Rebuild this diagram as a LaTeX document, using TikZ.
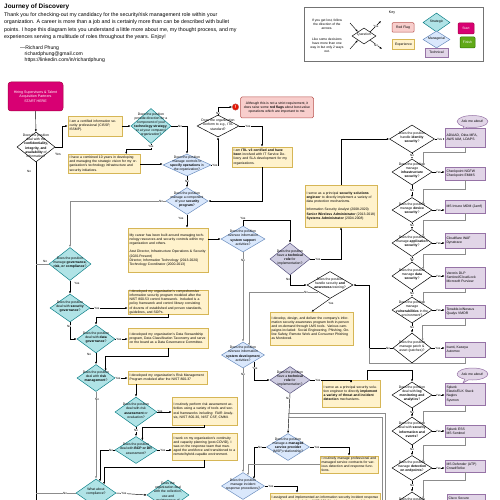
\documentclass[tikz,border=0pt]{standalone}
\usepackage{fontspec}
\setmainfont{Liberation Sans}
\usetikzlibrary{shapes.geometric,shapes.callouts,arrows.meta,calc}
\definecolor{tealf}{HTML}{B0E3E6}\definecolor{teald}{HTML}{0E8088}
\definecolor{bluef}{HTML}{DAE8FC}\definecolor{blued}{HTML}{6C8EBF}
\definecolor{purf}{HTML}{E1D5E7}\definecolor{purd}{HTML}{9673A6}
\definecolor{pur2f}{HTML}{D0CEE2}\definecolor{pur2d}{HTML}{56517E}
\definecolor{yelf}{HTML}{FFF2CC}\definecolor{yeld}{HTML}{D6B656}
\definecolor{redf}{HTML}{F8CECC}\definecolor{redd}{HTML}{B85450}
\definecolor{magf}{HTML}{D80073}\definecolor{magd}{HTML}{A50040}
\definecolor{grnf}{HTML}{60A917}\definecolor{grnd}{HTML}{2D7600}
\definecolor{flagc}{HTML}{E51400}
\newcommand{\dtxt}[2]{\smash{\makebox[0pt]{\parbox{#1pt}{\centering #2}}}}
\begin{document}
\begin{tikzpicture}[x=1pt,y=-1pt,>={Latex[length=2.4pt,width=2pt]},
 base/.style={font=\fontsize{3.4}{4.1}\selectfont, inner sep=0pt, line width=0.5pt},
 qd/.style={base, diamond, draw=black, fill=white},
 strat/.style={qd, fill=tealf, draw=teald},
 mgr/.style={qd, fill=bluef, draw=blued},
 techd/.style={qd, fill=pur2f, draw=pur2d},
 exp/.style={base, rectangle, draw=yeld, fill=yelf, align=left, inner xsep=1.5pt},
 tech/.style={base, rectangle, draw=purd, fill=purf, align=left, inner xsep=1.5pt},
 ar/.style={->, line width=0.45pt},
 gar/.style={->, line width=0.45pt, draw=black!45},
 ln/.style={line width=0.45pt},
 gln/.style={line width=0.45pt, draw=black!45},
 lbl/.style={font=\fontsize{3.1}{3.4}\selectfont, fill=white, inner sep=0.3pt},
 bub/.style={base, ellipse callout, draw=purd, fill=purf, minimum width=25pt, minimum height=12pt, align=center},
]
\fill[white] (0,0) rectangle (500,500);
\useasboundingbox (0,0) rectangle (500,500);
\clip (0,0) rectangle (500,500);

% ---------- header
\node[anchor=west, inner sep=0, font=\fontsize{6.4}{7}\selectfont\bfseries] (title) at (4,7) {Journey of Discovery};
\node[anchor=north west, inner sep=0, align=left, font=\fontsize{5.3}{7.3}\selectfont] (intro) at (4,12.6) {Thank you for checking-out my candidacy for the security/risk management role within your\\ organization. A career is more than a job and is certainly more than can be described with bullet\\ points. I hope this diagram lets you understand a little more about me, my thought process, and my\\ experiences serving a multitude of roles throughout the years. Enjoy!};
\node[anchor=north west, inner sep=0, align=left, font=\fontsize{5.1}{6.2}\selectfont] (sig) at (20,45.5) {---Richard Phung\\ \hspace*{4.5pt}richardphung@gmail.com\\ \hspace*{4.5pt}https://linkedin.com/in/richardphung};

% ---------- key
\node[draw=black!55, line width=0.6pt, minimum width=179pt, minimum height=54pt, inner sep=0] (keybox) at (393.5,34) {};
\node[base, align=center, font=\fontsize{3.3}{4.1}\selectfont] (k1) at (327,24) {If you get lost, follow\\ the direction of the\\ arrows.};
\node[base, align=center, font=\fontsize{3.3}{4.1}\selectfont] (k2) at (327,45) {Like some decisions\\ have more than one\\ way in but only 2 ways\\ out.};
\node[qd, minimum width=24pt, minimum height=16pt] (kq) at (364,36) {\dtxt{20}{Question}};
\coordinate (ka1) at (350,23); \coordinate (ka2) at (350,49);
\coordinate (kb1) at (381,21); \coordinate (kb2) at (382,49);
\draw[ar] (ka1) -- (kq.north west); \draw[ar] (ka2) -- (kq.south west);
\draw[ar] (kq.north east) -- (kb1); \draw[ar] (kq.south east) -- (kb2);
\node[lbl] (kyes) at (376,26) {Yes}; \node[lbl] (kno) at (376,45) {No};
\node[base, font=\fontsize{3.6}{4}\selectfont] (keyt) at (392,13) {Key};
\node[base, draw=redd, fill=redf, minimum width=22pt, minimum height=9.5pt, rounded corners=1pt] (kred) at (403,27.5) {Red Flag};
\node[base, draw=yeld, fill=yelf, minimum width=22pt, minimum height=10pt] (kexp) at (403.5,44.5) {Experience};
\node[strat, minimum width=27pt, minimum height=19pt] (kstr) at (436.5,22.5) {\dtxt{22}{Strategic}};
\node[mgr, minimum width=27pt, minimum height=17pt] (kmgr) at (436.5,39.5) {\dtxt{22}{Managerial}};
\node[base, draw=purd, fill=purf, minimum width=23pt, minimum height=9pt] (ktec) at (436.5,52.5) {Technical};
\node[base, draw=magd, fill=magf, text=white, minimum width=16pt, minimum height=11pt, rounded corners=1pt] (kstart) at (466,28.5) {Start};
\node[base, draw=grnd, fill=grnf, text=white, minimum width=15pt, minimum height=11pt, rounded corners=1pt] (kfin) at (467.5,42.5) {Finish};

% ---------- main flow nodes
\node[base, draw=magd, fill=magf, text=white, rounded corners=3pt, minimum width=55pt, minimum height=29pt, align=center, font=\fontsize{3.6}{4.4}\selectfont] (start) at (35.5,96.5) {Hiring Supervisors \& Talent\\ Acquisition Partners\\ START HERE};
\node[qd, minimum width=38pt, minimum height=30pt] (d1) at (36,147) {\dtxt{30}{Does the position deal with the \textbf{confidentiality, integrity, and availability} of information?}};
\node[exp, text width=51pt, minimum height=20pt] (e1) at (95,126) {I am a certified information security professional (CISSP, ISSMP).};
\node[strat, minimum width=40pt, minimum height=35pt] (d2) at (151,126) {\dtxt{34}{Does the position provide direction for a component of your \textbf{technology strategy}, or at your company/ organization?}};
\node[exp, text width=69pt, minimum height=19pt] (e2) at (104,164) {I have a combined 10 years in developing and managing the strategic vision for my organization's technology infrastructure and security initiatives.};
\node[mgr, minimum width=48pt, minimum height=22pt] (d3) at (187,165) {\dtxt{36}{Does the position manage controls to \textbf{specify operations} in the organization?}};
\node[qd, minimum width=42pt, minimum height=22pt] (d4) at (218,126) {\dtxt{34}{Does the organization conform to e.g., ITIL standard?}};
\node[circle, fill=flagc, draw=redd, line width=0.4pt, minimum size=6.4pt, inner sep=0, text=white, font=\fontsize{4.6}{5}\selectfont\bfseries] (flag) at (235.5,107) {!};
\node[base, draw=redd, fill=redf, rounded corners=1.5pt, minimum width=73pt, minimum height=21pt, align=center] (rf) at (277,107.5) {Although this is not a strict requirement, it\\ does raise some \textbf{red flags} about best-value\\ operations which are important to me.};
\node[exp, text width=57pt, minimum height=20pt] (e3) at (262,157) {I am \textbf{ITIL v3 certified and have been} involved with IT Service Delivery and SLA development for my organizations.};
\node[mgr, minimum width=42pt, minimum height=27pt] (d5) at (187,201) {\dtxt{34}{Does the position manage a component of your \textbf{security program}?}};
\node[exp, text width=77pt, minimum height=44pt] (e4) at (168,250) {My career has been built around managing technology resources and security controls within my organization and others.\\[4.1pt] Asst Director, Infrastructure Operations \& Security (2020-Present)\\ Director, Information Technology (2013-2020)\\ Technology Coordinator (2000-2013)};
\node[mgr, minimum width=44pt, minimum height=26pt] (d6) at (243,239) {\dtxt{34}{Does the position oversee information \textbf{system support} activities?}};
\node[techd, minimum width=40pt, minimum height=32pt] (d7) at (290,259) {\dtxt{32}{Does the position have a \textbf{technical role} for implementation?}};
\node[exp, text width=69pt, minimum height=42pt] (e5) at (341,206) {I serve as a principal \textbf{security solutions engineer} to directly implement a variety of data protection mechanisms.\\[4.1pt] Information Security Analyst (2008-2020)\\ \textbf{Senior Wireless Administrator} (2013-2018)\\ \textbf{Systems Administrator} (2004-2008)};
\node[qd, minimum width=46pt, minimum height=27pt] (daw) at (330,285) {\dtxt{34}{Does the position handle security \textbf{and awareness} training?}};
\node[exp, text width=80pt, minimum height=33pt] (e11) at (311.5,328.5) {I develop, design, and deliver the company's information security awareness program both in-person and on-demand through LMS tools. Various campaigns included: Social Engineering, Phishing, Online Safety, Remote Work and Consumer Phishing as Monitored.};

\node[strat, minimum width=42pt, minimum height=33pt] (grc) at (70,264) {\dtxt{34}{Does the position manage \textbf{governance, risk, or compliance}?}};
\node[strat, minimum width=40pt, minimum height=28pt] (sg) at (70,308) {\dtxt{32}{Does the position deal with \textbf{security governance}?}};
\node[exp, text width=77pt, minimum height=24pt] (e6) at (168,302) {I developed my organization's comprehensive information security program modeled after the NIST 800-53 control framework. Included is a policy framework and control library consisting of dozens of established and proven standards, guidelines, and SOPs.};
\node[strat, minimum width=38pt, minimum height=28pt] (dg) at (96,339) {\dtxt{30}{Does the position deal with \textbf{data governance}?}};
\node[exp, text width=77pt, minimum height=20pt] (e7) at (168,338) {I developed my organization's Data Stewardship program, Data Classification Taxonomy and serve on the board as a Data Governance Committee.};
\node[strat, minimum width=38pt, minimum height=27pt] (rm) at (96,378) {\dtxt{30}{Does the position deal with \textbf{risk management}?}};
\node[exp, text width=76pt, minimum height=13pt] (e8) at (167.5,377.5) {I developed my organization's Risk Management Program modeled after the NIST 800-37};
\node[strat, minimum width=42pt, minimum height=30pt] (ra) at (136,412) {\dtxt{32}{Does the position deal with risk \textbf{assessment} or evaluation?}};
\node[exp, text width=62pt, minimum height=28pt] (e9) at (204.5,411) {I routinely perform risk assessment activities using a variety of tools and several frameworks including: FAIR Analysis, NIST 800-30, NIST CSF, CMMI.};
\node[strat, minimum width=42pt, minimum height=27pt] (bcp) at (136,450) {\dtxt{32}{Does the position deal with \textbf{BCP or DR} assessment?}};
\node[exp, text width=62pt, minimum height=27pt] (e10) at (204.5,446.5) {I work on my organization's continuity and capacity planning (post-COVID), I was on the response team that managed the workforce and transitioned to a remote/hybrid-capable environment.};
\node[strat, minimum width=40pt, minimum height=28pt] (comp) at (96,493) {\dtxt{30}{What about compliance?}};
\node[strat, minimum width=42pt, minimum height=30pt] (vend) at (168,495) {\dtxt{32}{Does the organization deal with the collection, use and maintenance of data?}};

\node[mgr, minimum width=43pt, minimum height=26pt] (d8) at (243,355) {\dtxt{34}{Does the position oversee information \textbf{system development} activities?}};
\node[techd, minimum width=40pt, minimum height=27pt] (d9) at (290,380) {\dtxt{32}{Does the position have a \textbf{technical role} for implementation?}};
\node[exp, text width=55pt, minimum height=27pt] (ep) at (351,393.5) {I serve as a principal security solution engineer to directly \textbf{implement a variety of threat and incident detection} mechanisms.};
\node[mgr, minimum width=43pt, minimum height=27pt] (d10) at (288,447) {\dtxt{34}{Does the position manage a \textbf{managed service provider} (MSP) relationship?}};
\node[exp, text width=55pt, minimum height=17pt] (e12) at (349,464.5) {I routinely manage professional and managed service contracts for various detection and response functions.};
\node[mgr, minimum width=43pt, minimum height=27pt] (inc) at (243,486) {\dtxt{34}{Does the position manage incident response procedures?}};
\node[exp, text width=107pt, minimum height=17pt] (e13) at (325,501.5) {I assigned and implemented an information security incident response procedures modeled after NIST 800-61. I have also helped the organization through several incidents.};

% ---------- technical column
\node[qd, minimum width=45pt, minimum height=28pt] (did) at (412,139) {\dtxt{34}{Does the position handle \textbf{identity security}?}};
\node[tech, text width=37pt, minimum height=19pt] (t1) at (465,137.5) {AD/AAD, Okta MFA, AWS IAM, LDAPS};
\node[bub, callout absolute pointer={(463,129)}] (b1) at (472.5,121.5) {Ask me about!};
\node[qd, minimum width=40pt, minimum height=26pt] (dinf) at (412,172) {\dtxt{32}{Does the position manage \textbf{infrastructure security}?}};
\node[tech, text width=37pt, minimum height=13pt] (t2) at (465,173.5) {Checkpoint NGFW\\ Checkpoint EMMS};
\node[qd, minimum width=40pt, minimum height=25pt] (ddev) at (412,210) {\dtxt{32}{Does the position manage \textbf{device security}?}};
\node[tech, text width=37pt, minimum height=13pt] (t3) at (465,206.5) {MS Intune MDM (Jamf)};
\node[qd, minimum width=40pt, minimum height=27pt] (dapp) at (412,243) {\dtxt{34}{Does the position manage \textbf{application security}?}};
\node[tech, text width=37pt, minimum height=15pt] (t4) at (465,240.5) {Cloudflare WAF\\ Dynatrace};
\node[qd, minimum width=40pt, minimum height=28pt] (ddata) at (412,276) {\dtxt{32}{Does the position manage \textbf{data security}?}};
\node[tech, text width=37pt, minimum height=21pt] (t5) at (465,277.5) {Varonis DLP\\ Sentinel/CloudLock\\ Microsoft Purview};
\node[qd, minimum width=40pt, minimum height=26pt] (dvuln) at (412,310) {\dtxt{34}{Does the position manage \textbf{vulnerabilities} in the environment?}};
\node[tech, text width=37pt, minimum height=13pt] (t6) at (465,311.5) {Tenable.io/Nessus\\ Qualys VMDR};
\node[qd, minimum width=38pt, minimum height=30pt] (dpatch) at (412,348) {\dtxt{30}{Does the position manage patch \& asset (patches)?}};
\node[tech, text width=37pt, minimum height=15pt] (t7) at (465,349.5) {Ivanti, Kaseya\\ Automox};
\node[bub, callout absolute pointer={(463,383)}] (b2) at (472.5,374) {Ask me about!};
\node[qd, minimum width=40pt, minimum height=26pt] (dlog) at (412,395) {\dtxt{32}{Does the position deal with \textbf{log monitoring and analytics}?}};
\node[tech, text width=37pt, minimum height=22pt] (t8) at (465,394) {Splunk\\ Elastic/ELK Stack\\ Nagios\\ Sysmon};
\node[qd, minimum width=40pt, minimum height=28pt] (dsiem) at (412,431) {\dtxt{32}{Does the position deal with \textbf{security information and events}?}};
\node[tech, text width=37pt, minimum height=12pt] (t9) at (465,431) {Splunk ESS\\ MS Sentinel};
\node[qd, minimum width=40pt, minimum height=25pt] (dedr) at (412,468) {\dtxt{32}{Does the position manage \textbf{detection on endpoints}?}};
\node[tech, text width=37pt, minimum height=12pt] (t10) at (465,466) {MS Defender (ATP)\\ CrowdStrike};
\node[qd, minimum width=40pt, minimum height=26pt] (dlast) at (412,505) {\dtxt{32}{Does the position manage \textbf{network security}?}};
\node[tech, text width=35pt, minimum height=12pt] (t11) at (466,500) {Cisco Secure\\ Palo Alto};

% ---------- connectors: top
\draw[ar] (start) -- (d1);
\draw[ar] (d1.east) -- (62,147) |- (e1.west);
\node[base] (l1) at (58,154) {Yes};
\draw[ln] (d1.south) -- (36,510);
\node[lbl] (l2) at (29,171) {No};
\draw[ar] (e1.east) -- (d2.west);
\draw[ar] (d2.east) -| (d3.north);
\node[lbl] (l3) at (180,126) {No};
\draw[ar] (d2.south) -- ++(0,5) -| ([xshift=-14pt]e2.north east);
\node[lbl] (l4) at (151,146.5) {Yes};
\draw[ar] (e2.east) -- (e2.east -| d3.west);
\draw[ar] (d3.east) -| (d4.south);
\node[lbl] (l5) at (215,165) {Yes};
\draw[ar] (d3.south) -- (d5.north);
\node[lbl] (l6) at (187,181) {No};
\draw[ar] (d4.north) |- (flag.west);
\node[lbl] (l7) at (218,113) {No};
\draw[ar] (d4.east) -| (e3.north);
\node[lbl] (l8) at (248,126) {Yes};
\draw[ar] (e3.south) |- (d5.east);
\draw[gar] (d5.west) -| (grc.north);
\node[lbl] (l9) at (161,201) {No};
\draw[ar] (d5.south) -- (d5.south |- e4.north);
\node[lbl] (l10) at (181,218) {Yes};
\draw[ar] (e4.east |- d6.west) -- (d6.west);
\draw[ar] (d6.north) -- ++(0,-6) -| (d7.north);
\node[lbl] (l11) at (243,218) {Yes};
\draw[gar] (d6.south) -- (d8.north);
\node[lbl] (l12) at (243,260) {No};
\draw[ar] (d7.east) -| (e5.south);
\node[lbl] (l13) at (318,259) {Yes};
\draw[ar] (e5.north) |- (did.west);
\draw[ar] (d7.south) |- (daw.west);
\node[lbl] (l14) at (288,279) {No};
\draw[ar] (daw.south) -- (e11.north);
\node[lbl] (l15) at (331,303) {Yes};
\draw[gar] (daw.south west) -| ($(d8.north)!0.28!(d8.east)$);
\node[lbl] (l16) at (306,292) {No};
\draw[ar] (d8.south east) |- (d9.west);
\node[lbl] (l17) at (255,368) {Yes};
\draw[gar] (d8.south) -- (inc.north);
\node[lbl] (l18) at (243,374) {No};
\draw[ar] (d9.east) -| (ep.north);
\node[lbl] (l19) at (318,380) {Yes};
\draw[ar] (d9.south) -- (d10.north);
\node[lbl] (l20) at (288,398) {No};
\draw[gln] (385,510) -- (385,413) -- (288,413);
\draw[gln] (382,510) -- (382,417) -- (288,417);
\draw[ar] (d10.east) -| (e12.north);
\node[lbl] (l21) at (317,447) {Yes};
\draw[ar] (d10.west) -| (inc.north east);
\node[lbl] (l22) at (260,447) {No};
\draw[gar] (e12.west) -| ($(inc.north)!0.23!(inc.east)$);
\draw[ar] (inc.east) -| ([xshift=-28pt]e13.north);
\node[lbl] (l23) at (271,486) {Yes};
\draw[ar] ([xshift=16pt]ep.north) -- ++(0,-10) -| (dlog.north);
\draw[ar] (dpatch.west) -| ([xshift=16pt]daw.east) -- (daw.east);
\node[lbl] (l24) at (388,348) {No};
\coordinate (j1) at (369,348);
\draw[gln] (t7.south) -- ++(0,6) -| (j1);

% ---------- connectors: left chain
\draw[ar] (grc.south) -- (sg.north);
\node[lbl] (l25) at (77,283) {Yes};
\draw[gln] (grc.west) -- (grc.west -| d1.south);
\node[lbl] (l26) at (45,261) {No};
\draw[ar] (sg.east) -- (sg.east -| e6.west);
\node[lbl] (l27) at (97,308) {Yes};
\draw[ar] (sg.south) |- (dg.west);
\node[lbl] (l28) at (69,326) {No};
\draw[ar] (e6.south) -- ++(0,2.5) -| (dg.north);
\draw[ar] (dg.east) -- (dg.east -| e7.west);
\node[lbl] (l29) at (119,339) {Yes};
\draw[ar] (dg.south) -- (rm.north);
\node[lbl] (l30) at (89,354) {No};
\draw[ar] (e7.south) -- ++(0,8) -| (rm.north east);
\draw[ar] (rm.east) -- (rm.east -| e8.west);
\node[lbl] (l31) at (118,378) {Yes};
\draw[gar] (rm.south) -- (comp.north);
\node[lbl] (l32) at (97,399) {No};
\draw[ar] (e8.south -| ra.north) -- (ra.north);
\draw[ar] (ra.east) -- (ra.east -| e9.west);
\node[lbl] (l33) at (160,411) {Yes};
\draw[ar] (ra.south) -- (bcp.north);
\node[lbl] (l34) at (136,430.5) {No};
\draw[ar] (e9.south) -- ++(0,2) -| ($(bcp.north)!0.3!(bcp.east)$);
\draw[ar] (bcp.east) -- (bcp.east -| e10.west);
\node[lbl] (l35) at (163,450) {Yes};
\draw[ar] (bcp.west) -| ($(comp.north)!0.2!(comp.east)$);
\node[lbl] (l36) at (111,450) {No};
\draw[ar] (e10.south) -- ++(0,7) -| ($(comp.north)!0.4!(comp.east)$);
\draw[gln] (comp.west) -- (comp.west -| d1.south);
\node[lbl] (l37) at (65,493) {No};
\draw[ar] (comp.east) -- (vend.west);
\node[lbl] (l38) at (124,493) {Yes};

% ---------- connectors: technical column
\foreach \d/\t in {did/t1,dinf/t2,ddev/t3,dapp/t4,ddata/t5,dvuln/t6,dpatch/t7,dlog/t8,dsiem/t9,dedr/t10,dlast/t11}{
  \draw[ar] (\d.east) -- (\d.east -| \t.west);
  \node[lbl] at ($(\d.east)!0.5!(\d.east -| \t.west)$) {Yes};
}
\foreach \a/\b in {did/dinf,dinf/ddev,ddev/dapp,dapp/ddata,ddata/dvuln,dvuln/dpatch,dlog/dsiem,dsiem/dedr,dedr/dlast}{
  \draw[ar] (\a.south) -- (\b.north);
  \node[lbl] at ($(\a.south)!0.45!(\b.north)$) {No};
}
\foreach \t/\d/\g in {t1/dinf/5,t2/ddev/9,t3/dapp/7,t4/ddata/6,t5/dvuln/4,t6/dpatch/7,t8/dsiem/6,t9/dedr/8,t10/dlast/8}{
  \draw[gar] (\t.south) -- ++(0,\g) -| ($(\d.north)!0.55!(\d.east)$);
}
\end{tikzpicture}
\end{document}
